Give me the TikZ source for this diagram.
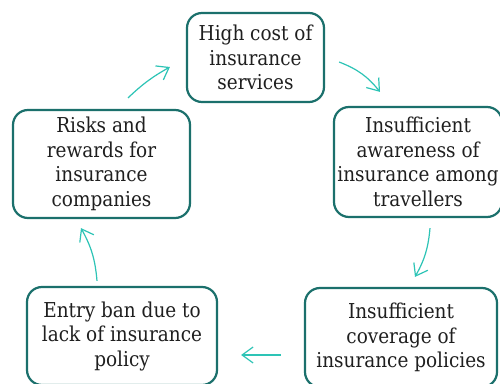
\documentclass[tikz,border=0pt]{standalone}
\usepackage{fontspec}
\setmainfont{DejaVu Serif Condensed}
\usetikzlibrary{arrows.meta}

\definecolor{boxline}{RGB}{27,112,108}
\definecolor{flowline}{RGB}{45,196,182}

\begin{document}
\begin{tikzpicture}[x=1pt,y=1pt,
    stage/.style={draw=boxline, line width=2.2pt, rounded corners=15pt, fill=white,
                  align=center, inner sep=0pt, text=black!88,
                  font=\fontsize{20.5}{24.5}\selectfont},
    flow/.style={draw=flowline, line width=1.2pt,
                 -{Straight Barb[length=11pt,width=16pt,line width=1.2pt]}}]
                        \useasboundingbox[fill=white] (0,0) rectangle (500,383);
                        \node[stage, minimum width=137pt, minimum height=89pt] (cost) at (255.5,325.5) {High cost of\\insurance\\services};
                        \node[stage, minimum width=168pt, minimum height=110pt] (aware) at (418,221) {Insufficient\\awareness of\\insurance among\\travellers};
                        \node[stage, minimum width=192pt, minimum height=99pt] (cover) at (401,45.5) {Insufficient\\coverage of\\insurance policies};
                        \node[stage, minimum width=190pt, minimum height=98pt] (ban) at (122,47) {Entry ban due to\\lack of insurance\\policy};
                        \node[stage, minimum width=177pt, minimum height=108pt] (risk) at (101.5,219) {Risks and\\rewards for\\insurance\\companies};
                        \draw[flow] ([xshift=26.5pt,yshift=11pt]risk.north) to[bend left=7] ([xshift=-16pt,yshift=-9.5pt]cost.west);
                        \draw[flow] ([xshift=14pt,yshift=-4.5pt]cost.east) to[bend left=15] ([xshift=-38pt,yshift=14pt]aware.north);
                        \draw[flow] ([xshift=12pt,yshift=-10pt]aware.south) to[bend left=12] ([xshift=14pt,yshift=10pt]cover.north);
                        \draw[flow] ([xshift=-23pt,yshift=-17.5pt]cover.west) -- ([xshift=23pt,yshift=-19pt]ban.east);
                        \draw[flow] ([xshift=-25pt,yshift=5pt]ban.north) to[bend right=12] ([xshift=-20.5pt,yshift=-9pt]risk.south);
                  \end{tikzpicture}
\end{document}
